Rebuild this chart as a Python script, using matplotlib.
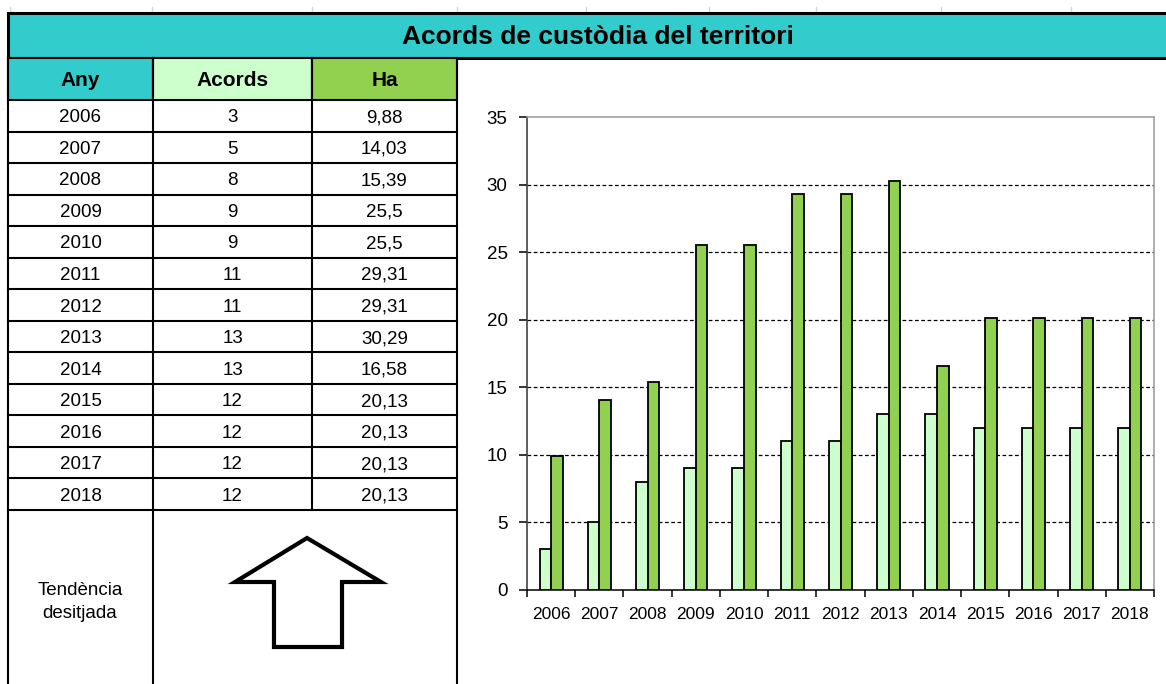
import matplotlib
matplotlib.use("Agg")
import matplotlib.pyplot as plt
from matplotlib.patches import Rectangle, Polygon
import numpy as np

# Dades
ANYS = [2006, 2007, 2008, 2009, 2010, 2011, 2012, 2013, 2014, 2015, 2016, 2017, 2018]
ACORDS = [3, 5, 8, 9, 9, 11, 11, 13, 13, 12, 12, 12, 12]
HA = [9.88, 14.03, 15.39, 25.5, 25.5, 29.31, 29.31, 30.29, 16.58, 20.13, 20.13, 20.13, 20.13]
TITOL = "Acords de custòdia del territori"
CAPCALERA = ["Any", "Acords", "Ha"]

TEAL = "#33CCCC"
VERD_CLAR = "#CCFFCC"
VERD = "#92D050"

plt.rcParams["font.family"] = ["Liberation Sans Narrow", "Liberation Sans", "DejaVu Sans"]

W, H = 1166, 684
fig = plt.figure(figsize=(W / 100, H / 100), dpi=100)

# capa de taula en coordenades de pixel
tab = fig.add_axes([0, 0, 1, 1])
tab.set_xlim(0, W)
tab.set_ylim(H, 0)
tab.axis("off")

# restes de la quadricula del full de calcul
for xg in (10, 152, 312, 457, 586, 709, 816, 941, 1071):
    tab.plot([xg, xg], [7, 13], color="#D4D4E4", lw=1, zorder=1)

# barra de titol
tab.add_patch(Rectangle((8, 13), W, 45, facecolor=TEAL, edgecolor="black", lw=2.2, zorder=2))
tab.text(598, 37, TITOL, ha="center", va="center", fontsize=19, fontweight="bold", zorder=3)

cols = [8, 153, 312, 457]
colors_cap = [TEAL, VERD_CLAR, VERD]
y_cap0, y_cap1 = 58, 100
for i in range(3):
    tab.add_patch(Rectangle((cols[i], y_cap0), cols[i + 1] - cols[i], y_cap1 - y_cap0,
                            facecolor=colors_cap[i], edgecolor="black", lw=1.5, zorder=2))
    tab.text((cols[i] + cols[i + 1]) / 2, (y_cap0 + y_cap1) / 2 + 2, CAPCALERA[i],
             ha="center", va="center", fontsize=15, fontweight="bold", zorder=3)

alt = (510 - y_cap1) / len(ANYS)
for r, (a, n, h) in enumerate(zip(ANYS, ACORDS, HA)):
    y0 = y_cap1 + r * alt
    tab.plot([cols[0], cols[-1]], [y0 + alt, y0 + alt], color="black", lw=1.5, zorder=2)
    valors = [str(a), str(n), f"{h:g}".replace(".", ",")]
    for i, v in enumerate(valors):
        tab.text((cols[i] + cols[i + 1]) / 2, y0 + alt / 2 + 2, v,
                 ha="center", va="center", fontsize=13.5, zorder=3)

for i, x in enumerate(cols):
    y_fi = H if i != 2 else 510
    tab.plot([x, x], [y_cap0, y_fi], color="black", lw=1.5, zorder=2)

tab.text(80, 602, "Tendència\ndesitjada", ha="center", va="center", fontsize=13.5,
         linespacing=1.5)

fletxa = [(307, 538), (381, 582), (342, 582), (342, 647), (274, 647), (274, 582), (235, 582)]
tab.add_patch(Polygon(fletxa, closed=True, facecolor="white", edgecolor="black", lw=3,
                      joinstyle="miter", zorder=3))

# grafic de barres
ax = fig.add_axes([527 / W, (H - 590) / H, (1154 - 527) / W, (590 - 117) / H])
x = np.arange(len(ANYS))
bw = 0.24
ax.bar(x - bw / 2, ACORDS, bw, color=VERD_CLAR, edgecolor="black", lw=1.3, zorder=3)
ax.bar(x + bw / 2, HA, bw, color=VERD, edgecolor="black", lw=1.3, zorder=3)
ax.set_xlim(-0.5, len(ANYS) - 0.5)
ax.set_ylim(0, 35)
ax.set_yticks(range(0, 36, 5))
ax.set_yticklabels([str(v) for v in range(0, 36, 5)], fontsize=13.5)
ax.set_xticks(x)
ax.set_xticklabels([str(a) for a in ANYS], fontsize=12.5)
ax.set_xticks(np.arange(-0.5, len(ANYS), 1), minor=True)
ax.tick_params(axis="x", which="major", length=0, pad=12)
ax.tick_params(axis="x", which="minor", length=5, width=1.1, direction="out")
ax.tick_params(axis="y", length=6, width=1.1, direction="out", pad=8)
for v in range(5, 35, 5):
    ax.axhline(v, color="black", lw=0.9, ls=(0, (3, 2)), zorder=1)
ax.spines["top"].set_color("#999999")
ax.spines["right"].set_color("#999999")
ax.spines["left"].set_color("#333333")
ax.spines["bottom"].set_color("black")
for s in ax.spines.values():
    s.set_linewidth(1.1)

fig.savefig("out.png", dpi=100)
